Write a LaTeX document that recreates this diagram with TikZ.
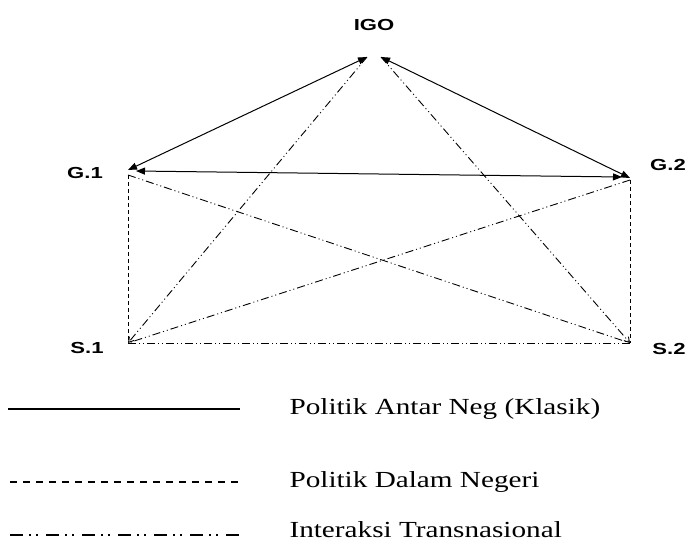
\documentclass[tikz,border=0pt]{standalone}
\usepackage{fontspec}
\setmainfont{Liberation Serif}
\setsansfont{Liberation Sans}
\usetikzlibrary{arrows.meta}
\newcommand{\wideA}[1]{\scalebox{1.38}[1]{#1}}
\newcommand{\wideB}[1]{\scalebox{1.27}[1]{#1}}
\begin{document}
\begin{tikzpicture}[x=1pt,y=-1pt,
  lbl/.style={font=\sffamily\bfseries\fontsize{16}{18}\selectfont},
  leg/.style={font=\fontsize{23}{26}\selectfont, anchor=west, inner ysep=1pt},
  solidln/.style={line width=1pt, {Triangle[length=9pt,width=7pt]}-{Triangle[length=9pt,width=7pt]}},
  dashln/.style={line width=0.9pt, dash pattern=on 4pt off 3pt},
  ddln/.style={line width=0.9pt, dash pattern=on 8pt off 3pt on 1pt off 3pt on 1pt off 3pt},
  opentip/.style={-{Straight Barb[length=5pt,width=6pt]}}
]
\useasboundingbox (0,0) rectangle (698,544);
% points
\coordinate (igo) at (374,57);
\coordinate (igoL) at (367,57);
\coordinate (igoR) at (381,57);
\coordinate (g1) at (128,170);
\coordinate (g1d) at (128,175);
\coordinate (g2) at (630,178);
\coordinate (g2d) at (630,180);
\coordinate (s1) at (128,343);
\coordinate (s2) at (630,343);
% labels
\node[lbl] (tigo) at (374,25) {\wideA{IGO}};
\node[lbl] (tg1) at (85,173) {\wideA{G.1}};
\node[lbl] (tg2) at (668,165) {\wideA{G.2}};
\node[lbl] (ts1) at (87,348) {\wideA{S.1}};
\node[lbl] (ts2) at (669,349) {\wideA{S.2}};
% solid
\draw[solidln] (igoL) -- (g1);
\draw[solidln] (igoR) -- (g2);
\draw[solidln] (136,171) -- (622,177);
% dashed
\draw[dashln] (g1d) -- (s1);
\draw[dashln] (g2d) -- (s2);
% dash-dot-dot
\draw[ddln] (s1) -- (s2);
\draw[ddln] (g1d) -- (s2);
\draw[ddln] (g2d) -- (s1);
\draw[ddln,opentip] (igoL) -- (s1);
\draw[ddln,opentip] (igoR) -- (s2);
% legend
\coordinate (l1a) at (8,409); \coordinate (l1b) at (240,409);
\coordinate (l2a) at (10,482); \coordinate (l2b) at (242,482);
\coordinate (l3a) at (10,535); \coordinate (l3b) at (240,535);
\draw[line width=1.6pt] (l1a) -- (l1b);
\draw[line width=1.6pt, dash pattern=on 7pt off 6pt] (l2a) -- (l2b);
\draw[line width=2pt, dash pattern=on 13pt off 6pt on 2pt off 5pt on 2pt off 8pt] (l3a) -- (l3b);
\node[leg] (t1) at (286,409) {\wideB{Politik Antar Neg (Klasik)}};
\node[leg] (t2) at (286,482) {\wideB{Politik Dalam Negeri}};
\node[leg] (t3) at (286,530) {\wideB{Interaksi Transnasional}};
\end{tikzpicture}
\end{document}
